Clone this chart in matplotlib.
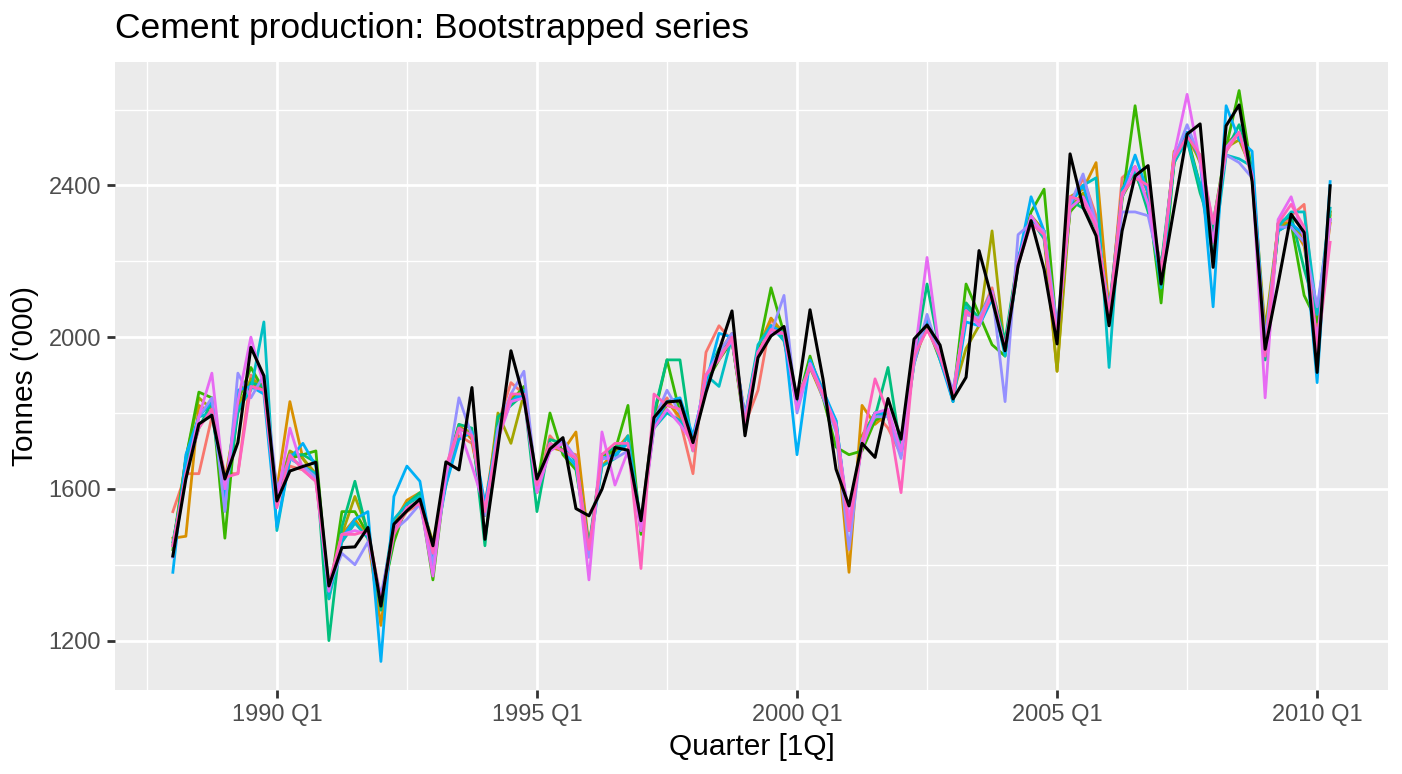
import matplotlib
matplotlib.use("Agg")
import matplotlib.pyplot as plt
import numpy as np
import pandas as pd

# ---------------- data ----------------
quarters = pd.period_range("1988Q1", periods=90, freq="Q")
x_years = np.array([q.year + (q.quarter - 1) / 4 for q in quarters])

cement = [1423, 1626, 1771, 1794, 1626, 1722, 1973, 1898, 1568, 1647,
          1659, 1670, 1344, 1445, 1447, 1498, 1291, 1507, 1542, 1573,
          1450, 1671, 1650, 1867, 1467, 1710, 1964, 1837, 1626, 1705,
          1735, 1548, 1529, 1599, 1709, 1702, 1516, 1788, 1829, 1832,
          1722, 1854, 1964, 2069, 1740, 1946, 2003, 2028, 1837, 2072,
          1889, 1652, 1555, 1720, 1683, 1838, 1731, 1995, 2032, 1979,
          1837, 1894, 2228, 2100, 1964, 2188, 2307, 2179, 1982, 2483,
          2342, 2267, 2030, 2280, 2425, 2452, 2140, 2340, 2535, 2562,
          2184, 2557, 2612, 2410, 1968, 2141, 2324, 2276, 1907, 2399]

boot1 = [1540, 1640, 1640, 1790, 1640, 1640, 1900, 1870, 1580, 1660,
         1650, 1620, 1330, 1460, 1510, 1490, 1310, 1490, 1540, 1560,
         1420, 1620, 1740, 1720, 1560, 1770, 1880, 1850, 1600, 1740,
         1700, 1690, 1420, 1690, 1700, 1720, 1510, 1800, 1840, 1780,
         1640, 1960, 2030, 1990, 1770, 1860, 2050, 1990, 1820, 1940,
         1860, 1770, 1500, 1720, 1800, 1760, 1690, 1950, 2020, 1960,
         1830, 2060, 2050, 2130, 1980, 2210, 2300, 2280, 2010, 2340,
         2420, 2320, 2040, 2420, 2450, 2380, 2170, 2480, 2520, 2470,
         2260, 2490, 2540, 2450, 1950, 2280, 2320, 2350, 2010, 2330]
boot2 = [1470, 1475, 1820, 1800, 1620, 1820, 1880, 1860, 1600, 1830,
         1680, 1630, 1340, 1480, 1520, 1470, 1240, 1510, 1570, 1590,
         1430, 1650, 1770, 1730, 1530, 1750, 1840, 1860, 1590, 1710,
         1700, 1750, 1450, 1660, 1700, 1740, 1490, 1790, 1830, 1790,
         1710, 1890, 1960, 2010, 1790, 1970, 2050, 2010, 1830, 1920,
         1840, 1760, 1380, 1820, 1770, 1800, 1690, 1930, 2040, 1950,
         1840, 2090, 2030, 2110, 1980, 2190, 2310, 2260, 1910, 2370,
         2390, 2460, 2070, 2390, 2430, 2360, 2150, 2490, 2520, 2480,
         2250, 2510, 2540, 2430, 1960, 2300, 2300, 2240, 2030, 2300]
boot3 = [1450, 1680, 1840, 1810, 1590, 1810, 1890, 1870, 1590, 1700,
         1680, 1640, 1320, 1480, 1580, 1490, 1290, 1500, 1550, 1570,
         1460, 1610, 1760, 1750, 1530, 1800, 1720, 1850, 1590, 1720,
         1700, 1680, 1430, 1690, 1690, 1720, 1500, 1770, 1820, 1810,
         1730, 1880, 1950, 1990, 1770, 1950, 2030, 2020, 1820, 1940,
         1840, 1770, 1490, 1740, 1800, 1790, 1700, 1950, 2030, 1960,
         1850, 1970, 2030, 2280, 1960, 2190, 2320, 2280, 1910, 2340,
         2380, 2300, 2060, 2370, 2430, 2350, 2170, 2460, 2540, 2460,
         2260, 2500, 2520, 2440, 2020, 2290, 2300, 2260, 2040, 2320]
boot4 = [1440, 1680, 1855, 1840, 1470, 1830, 1920, 1860, 1570, 1680,
         1690, 1700, 1310, 1540, 1540, 1480, 1300, 1460, 1560, 1580,
         1360, 1640, 1760, 1740, 1540, 1760, 1830, 1870, 1610, 1800,
         1690, 1650, 1440, 1690, 1700, 1820, 1480, 1790, 1940, 1800,
         1720, 1880, 1940, 1990, 1760, 1960, 2130, 2010, 1820, 1950,
         1840, 1710, 1690, 1700, 1780, 1800, 1690, 1950, 2030, 1940,
         1840, 2140, 2060, 1980, 1950, 2200, 2330, 2390, 2010, 2330,
         2370, 2290, 2070, 2360, 2610, 2370, 2090, 2460, 2530, 2400,
         2300, 2500, 2650, 2430, 1940, 2280, 2300, 2110, 2040, 2330]
boot5 = [1460, 1640, 1760, 1830, 1560, 1800, 1880, 1870, 1570, 1690,
         1690, 1670, 1200, 1500, 1620, 1480, 1280, 1480, 1560, 1590,
         1440, 1650, 1770, 1760, 1450, 1790, 1820, 1850, 1540, 1730,
         1720, 1680, 1450, 1690, 1710, 1720, 1500, 1800, 1940, 1940,
         1700, 1890, 1970, 1990, 1780, 1950, 2020, 2000, 1840, 1920,
         1850, 1770, 1500, 1720, 1790, 1920, 1700, 1940, 2140, 1960,
         1830, 2090, 2050, 2120, 1990, 2210, 2300, 2280, 2010, 2360,
         2340, 2290, 2050, 2370, 2440, 2330, 2190, 2470, 2520, 2380,
         2280, 2490, 2560, 2440, 1940, 2300, 2320, 2180, 2060, 2310]
boot6 = [1450, 1660, 1790, 1800, 1580, 1810, 1860, 2040, 1490, 1680,
         1660, 1640, 1310, 1460, 1510, 1470, 1300, 1520, 1560, 1580,
         1430, 1640, 1760, 1740, 1550, 1760, 1830, 1860, 1600, 1710,
         1720, 1670, 1430, 1660, 1680, 1740, 1510, 1760, 1800, 1780,
         1720, 1900, 1870, 2000, 1790, 1980, 2030, 1990, 1830, 1930,
         1850, 1780, 1500, 1730, 1800, 1790, 1700, 1940, 2050, 1950,
         1840, 2080, 2030, 2110, 1950, 2190, 2310, 2260, 2000, 2360,
         2400, 2420, 1920, 2390, 2440, 2350, 2130, 2460, 2520, 2400,
         2210, 2480, 2470, 2450, 1970, 2290, 2330, 2330, 2060, 2340]
boot7 = [1380, 1690, 1790, 1830, 1580, 1860, 1870, 1850, 1500, 1680,
         1720, 1660, 1330, 1470, 1520, 1540, 1145, 1580, 1660, 1620,
         1420, 1610, 1730, 1750, 1560, 1740, 1830, 1850, 1600, 1720,
         1700, 1660, 1430, 1680, 1690, 1720, 1500, 1770, 1830, 1840,
         1740, 1880, 2010, 2000, 1790, 1950, 2030, 2010, 1690, 1940,
         1860, 1780, 1500, 1720, 1800, 1800, 1690, 1930, 2050, 1940,
         1830, 2040, 2030, 2100, 1960, 2200, 2370, 2280, 2000, 2350,
         2400, 2290, 2070, 2380, 2480, 2380, 2160, 2470, 2540, 2470,
         2080, 2610, 2520, 2490, 1960, 2280, 2300, 2270, 1880, 2410]
boot8 = [1420, 1640, 1790, 1840, 1540, 1905, 1840, 1900, 1600, 1680,
         1660, 1630, 1340, 1430, 1400, 1460, 1320, 1490, 1520, 1560,
         1400, 1630, 1840, 1740, 1530, 1760, 1850, 1910, 1600, 1700,
         1730, 1680, 1420, 1680, 1680, 1700, 1490, 1780, 1860, 1800,
         1720, 1900, 1960, 2010, 1790, 1960, 2010, 2110, 1800, 1930,
         1840, 1750, 1440, 1730, 1790, 1790, 1680, 1930, 2060, 1950,
         1860, 2060, 2050, 2120, 1830, 2270, 2300, 2280, 2030, 2350,
         2430, 2300, 2070, 2330, 2330, 2320, 2170, 2470, 2560, 2470,
         2300, 2480, 2460, 2420, 1990, 2290, 2290, 2250, 2080, 2310]
boot9 = [1450, 1630, 1790, 1905, 1600, 1830, 2000, 1870, 1570, 1760,
         1650, 1620, 1330, 1480, 1490, 1480, 1300, 1500, 1550, 1570,
         1370, 1640, 1760, 1660, 1550, 1730, 1830, 1840, 1590, 1700,
         1720, 1680, 1360, 1750, 1610, 1700, 1490, 1760, 1810, 1770,
         1720, 1900, 1950, 1990, 1770, 1960, 2010, 2010, 1810, 1930,
         1850, 1770, 1520, 1710, 1800, 1810, 1700, 1940, 2210, 1950,
         1850, 2070, 2030, 2120, 1970, 2200, 2320, 2270, 2000, 2340,
         2370, 2300, 2050, 2370, 2450, 2350, 2160, 2480, 2640, 2460,
         2250, 2500, 2540, 2430, 1840, 2310, 2370, 2260, 1990, 2310]
boot10 = [1450, 1640, 1760, 1810, 1630, 1640, 1870, 1860, 1550, 1690,
          1650, 1620, 1350, 1480, 1480, 1490, 1300, 1480, 1550, 1560,
          1430, 1660, 1760, 1740, 1540, 1730, 1850, 1850, 1610, 1720,
          1700, 1680, 1440, 1690, 1720, 1720, 1390, 1850, 1820, 1810,
          1700, 1900, 1940, 2000, 1770, 1960, 2020, 2010, 1840, 1920,
          1850, 1760, 1490, 1720, 1890, 1800, 1590, 1950, 2020, 1950,
          1840, 2070, 2040, 2110, 1970, 2190, 2300, 2270, 1990, 2370,
          2360, 2290, 2060, 2380, 2420, 2400, 2170, 2470, 2530, 2480,
          2300, 2490, 2540, 2420, 1950, 2300, 2350, 2290, 1960, 2250]

boot_series = [boot1, boot2, boot3, boot4, boot5, boot6, boot7, boot8, boot9, boot10]
boot_colors = ["#F8766D", "#D89000", "#A3A500", "#39B600", "#00BF7D",
               "#00BFC4", "#00B0F6", "#9590FF", "#E76BF3", "#FF62BC"]

major_years = [1990, 1995, 2000, 2005, 2010]
major_labels = ["1990 Q1", "1995 Q1", "2000 Q1", "2005 Q1", "2010 Q1"]
y_ticks = [1200, 1600, 2000, 2400]

# ---------------- figure ----------------
W, H = 1402, 774
fig = plt.figure(figsize=(W / 100, H / 100), dpi=100)
fig.patch.set_facecolor("white")
left, right, top, bottom = 115, 1388, 62, 690
ax = fig.add_axes([left / W, 1 - bottom / H, (right - left) / W, (bottom - top) / H])
ax.set_facecolor("#EBEBEB")

for s, c in zip(boot_series, boot_colors):
    ax.plot(x_years, s, color=c, lw=2.0, zorder=3)
ax.plot(x_years, cement, color="black", lw=2.2, zorder=4)

# limits with 5% expansion like ggplot
allv = np.concatenate([np.array(s) for s in boot_series] + [np.array(cement)])
ymin, ymax = allv.min(), allv.max()
yr = ymax - ymin
ax.set_ylim(ymin - 0.05 * yr, ymax + 0.05 * yr)
xr = x_years.max() - x_years.min()
ax.set_xlim(x_years.min() - 0.05 * xr, x_years.max() + 0.05 * xr)

ax.set_xticks(major_years)
ax.set_xticklabels(major_labels)
ax.set_xticks([1987.5, 1992.5, 1997.5, 2002.5, 2007.5], minor=True)
ax.set_yticks(y_ticks)
ax.set_yticks([1400, 1800, 2200, 2600], minor=True)

ax.grid(which="major", color="white", lw=2.0, zorder=0)
ax.grid(which="minor", color="white", lw=1.0, zorder=0)
ax.set_axisbelow(True)
for sp in ax.spines.values():
    sp.set_visible(False)

ax.tick_params(axis="both", which="major", length=6, width=2, color="#333333",
               labelcolor="#4D4D4D", labelsize=17, pad=4)
ax.tick_params(axis="both", which="minor", length=0)
for lab in ax.get_xticklabels() + ax.get_yticklabels():
    lab.set_fontfamily("Liberation Sans")

ax.set_xlabel("Quarter [1Q]", fontsize=21.5, family="Liberation Sans", color="black", labelpad=5)
ax.set_ylabel("Tonnes ('000)", fontsize=21.5, family="Liberation Sans", color="black", labelpad=7)
fig.text(left / W, 1 - 38 / H, "Cement production: Bootstrapped series", fontsize=25.5,
         family="Liberation Sans", color="black", ha="left", va="baseline")

fig.savefig("out.png", dpi=100, facecolor="white")
